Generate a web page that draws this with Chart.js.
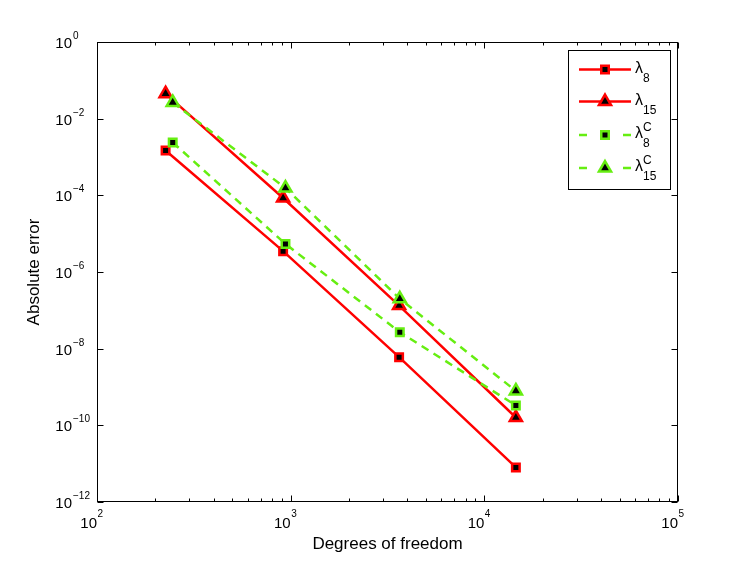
<!DOCTYPE html>
<html>
<head>
<meta charset="utf-8">
<script src="https://cdn.jsdelivr.net/npm/chart.js@4"></script>
<style>
  html, body { margin: 0; padding: 0; background: #fff; }
  #wrap { width: 749px; height: 564px; }
</style>
</head>
<body>
<div id="wrap"><canvas id="c" width="749" height="564"></canvas></div>
<script>
// ---- data ----
const dofPlain = [226, 914, 3630, 14550];      // x for lambda_8, lambda_15
const dofCorr  = [246, 940, 3660, 14550];      // x for lambda_8^C, lambda_15^C
const errLambda8   = [1.48e-3, 3.5e-6, 6.0e-9, 8.0e-12];
const errLambda15  = [4.5e-2, 8.5e-5, 1.33e-7, 1.6e-10];
const errLambda8C  = [2.4e-3, 5.4e-6, 2.7e-8, 3.3e-10];
const errLambda15C = [2.65e-2, 1.55e-4, 2.0e-7, 7.9e-10];
const xTickExponents = [2, 3, 4, 5];
const yTickExponents = [0, -2, -4, -6, -8, -10, -12];
const xTitle = 'Degrees of freedom';
const yTitle = 'Absolute error';

const RED = '#ff0000';
const GREEN = 'rgb(102,238,17)';
const FONT = '"Liberation Sans", Arial, Helvetica, sans-serif';

function pts(xs, ys) { return xs.map((v, i) => ({ x: v, y: ys[i] })); }

function mkSet(label, xs, ys, color, shape, dashed) {
  return {
    label: label,
    data: pts(xs, ys),
    borderColor: color,
    borderWidth: 2.5,
    borderDash: dashed ? [8, 6] : [],
    backgroundColor: '#000',
    pointBackgroundColor: '#000',
    pointBorderColor: color,
    pointBorderWidth: 2.5,
    pointStyle: shape,
    pointRadius: shape === 'rect' ? 5.3 : 7,
    pointHoverRadius: shape === 'rect' ? 5.3 : 7,
    fill: false,
    tension: 0
  };
}

// legend entries
const legendItems = [
  { sub: '8',  sup: '',  color: RED,   shape: 'rect',     dashed: false },
  { sub: '15', sup: '',  color: RED,   shape: 'triangle', dashed: false },
  { sub: '8',  sup: 'C', color: GREEN, shape: 'rect',     dashed: true },
  { sub: '15', sup: 'C', color: GREEN, shape: 'triangle', dashed: true }
];

function drawMarker(ctx, shape, cx, cy, color) {
  ctx.save();
  ctx.setLineDash([]);
  ctx.lineWidth = 2.5;
  ctx.strokeStyle = color;
  ctx.fillStyle = '#000';
  ctx.beginPath();
  if (shape === 'rect') {
    const s = 5.3 * Math.SQRT1_2;
    ctx.rect(cx - s, cy - s, 2 * s, 2 * s);
  } else {
    const r = 7;
    let rad = 0;
    ctx.moveTo(cx + Math.sin(rad) * r, cy - Math.cos(rad) * r);
    rad += 2 * Math.PI / 3;
    ctx.lineTo(cx + Math.sin(rad) * r, cy - Math.cos(rad) * r);
    rad += 2 * Math.PI / 3;
    ctx.lineTo(cx + Math.sin(rad) * r, cy - Math.cos(rad) * r);
    ctx.closePath();
  }
  ctx.fill();
  ctx.stroke();
  ctx.restore();
}

const matlabAxes = {
  id: 'matlabAxes',
  afterDraw(chart) {
    const { ctx, chartArea: a, scales: { x, y } } = chart;
    ctx.save();
    ctx.setLineDash([]);
    ctx.strokeStyle = '#000';
    ctx.lineWidth = 1;
    const L = Math.round(a.left) + 0.5, R = Math.round(a.right) - 0.5;
    const T = Math.round(a.top) + 0.5, B = Math.round(a.bottom) - 0.5;
    ctx.strokeRect(L, T, R - L, B - T);

    // x ticks (major + minor), bottom and top, pointing inward
    ctx.beginPath();
    xTickExponents.forEach((e, idx) => {
      const v = Math.pow(10, e);
      const px = Math.round(x.getPixelForValue(v)) + 0.5;
      ctx.moveTo(px, B); ctx.lineTo(px, B - 6);
      ctx.moveTo(px, T); ctx.lineTo(px, T + 6);
      if (idx < xTickExponents.length - 1) {
        for (let k = 2; k <= 9; k++) {
          const mx = Math.round(x.getPixelForValue(k * v)) + 0.5;
          ctx.moveTo(mx, B); ctx.lineTo(mx, B - 3);
          ctx.moveTo(mx, T); ctx.lineTo(mx, T + 3);
        }
      }
    });
    // y ticks, left and right
    yTickExponents.forEach(e => {
      const py = Math.round(y.getPixelForValue(Math.pow(10, e))) + 0.5;
      ctx.moveTo(L, py); ctx.lineTo(L + 6, py);
      ctx.moveTo(R, py); ctx.lineTo(R - 6, py);
    });
    ctx.stroke();

    // tick labels
    ctx.fillStyle = '#000';
    ctx.textBaseline = 'alphabetic';
    xTickExponents.forEach(e => {
      const px = x.getPixelForValue(Math.pow(10, e));
      ctx.font = '15px ' + FONT;
      ctx.textAlign = 'right';
      ctx.fillText('10', px, a.bottom + 26);
      ctx.font = '10px ' + FONT;
      ctx.textAlign = 'left';
      ctx.fillText(String(e).replace('-', '\u2212'), px + 0.5, a.bottom + 15);
    });
    yTickExponents.forEach(e => {
      const py = y.getPixelForValue(Math.pow(10, e));
      ctx.font = '15px ' + FONT;
      ctx.textAlign = 'right';
      ctx.fillText('10', 72, py + 6);
      ctx.font = '10px ' + FONT;
      ctx.textAlign = 'left';
      ctx.fillText(String(e).replace('-', '\u2212'), 73, py - 3);
    });

    // axis titles
    ctx.font = '17px ' + FONT;
    ctx.textAlign = 'center';
    ctx.fillText(xTitle, (a.left + a.right) / 2, 549);
    ctx.save();
    ctx.translate(39, (a.top + a.bottom) / 2);
    ctx.rotate(-Math.PI / 2);
    ctx.fillText(yTitle, 0, 0);
    ctx.restore();

    // legend
    const lx0 = 568.5, ly0 = 50.5, lx1 = 670.5, ly1 = 189.5;
    ctx.fillStyle = '#fff';
    ctx.fillRect(lx0, ly0, lx1 - lx0, ly1 - ly0);
    ctx.strokeStyle = '#000';
    ctx.lineWidth = 1;
    ctx.strokeRect(lx0, ly0, lx1 - lx0, ly1 - ly0);
    const rows = [69.5, 101.5, 135, 168];
    legendItems.forEach((it, i) => {
      const ry = rows[i];
      ctx.save();
      ctx.strokeStyle = it.color;
      ctx.lineWidth = 2.5;
      if (it.dashed) {
        ctx.setLineDash([]);
        ctx.beginPath();
        ctx.moveTo(579, ry); ctx.lineTo(587, ry);
        ctx.moveTo(623, ry); ctx.lineTo(631, ry);
        ctx.stroke();
      } else {
        ctx.beginPath();
        ctx.moveTo(579, ry); ctx.lineTo(631, ry);
        ctx.stroke();
      }
      ctx.restore();
      drawMarker(ctx, it.shape, 605, ry, it.color);
      ctx.fillStyle = '#000';
      ctx.textAlign = 'left';
      ctx.font = '16px ' + FONT;
      ctx.fillText('\u03bb', 635, ry + 3);
      const w = ctx.measureText('\u03bb').width;
      ctx.font = '12px ' + FONT;
      ctx.fillText(it.sub, 635 + w, ry + 12);
      if (it.sup) ctx.fillText(it.sup, 635 + w, ry - 4);
    });
    ctx.restore();
  }
};

const chart = new Chart(document.getElementById('c'), {
  type: 'line',
  data: {
    datasets: [
      mkSet('lambda_15^C', dofCorr, errLambda15C, GREEN, 'triangle', true),
      mkSet('lambda_8^C', dofCorr, errLambda8C, GREEN, 'rect', true),
      mkSet('lambda_15', dofPlain, errLambda15, RED, 'triangle', false),
      mkSet('lambda_8', dofPlain, errLambda8, RED, 'rect', false)
    ]
  },
  options: {
    responsive: false,
    animation: false,
    devicePixelRatio: 1,
    layout: { autoPadding: false, padding: { left: 0, top: 42, right: 71, bottom: 0 } },
    plugins: { legend: { display: false }, tooltip: { enabled: false } },
    events: [],
    scales: {
      x: {
        type: 'logarithmic', min: 100, max: 100000,
        ticks: { display: false }, grid: { display: false }, border: { display: false },
        afterFit(s) { s.height = 62; }
      },
      y: {
        type: 'logarithmic', min: 1e-12, max: 1,
        ticks: { display: false }, grid: { display: false }, border: { display: false },
        afterFit(s) { s.width = 97; }
      }
    }
  },
  plugins: [matlabAxes]
});
</script>
</body>
</html>
